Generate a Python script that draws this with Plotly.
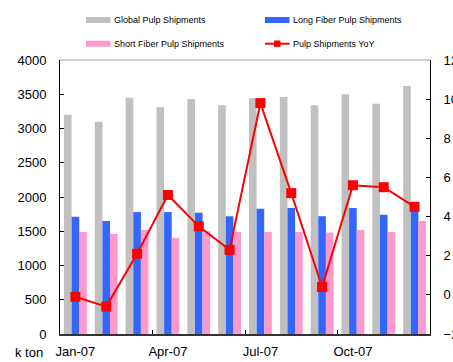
import plotly.graph_objects as go

# Monthly pulp shipments, 2007 (thousand tonnes) and year-on-year growth (%)
months = ["Jan-07", "Feb-07", "Mar-07", "Apr-07", "May-07", "Jun-07",
          "Jul-07", "Aug-07", "Sep-07", "Oct-07", "Nov-07", "Dec-07"]
global_pulp = [3200, 3100, 3450, 3310, 3430, 3340, 3440, 3460, 3340, 3500, 3360, 3620]
long_fiber = [1710, 1650, 1780, 1780, 1770, 1720, 1830, 1840, 1720, 1840, 1740, 1800]
short_fiber = [1490, 1460, 1520, 1400, 1500, 1490, 1490, 1490, 1480, 1520, 1490, 1650]
yoy = [-0.1, -0.6, 2.1, 5.1, 3.5, 2.3, 9.8, 5.2, 0.4, 5.6, 5.5, 4.5]

label_months = ["Jan-07", "Apr-07", "Jul-07", "Oct-07"]

GRAY = "#C0C0C0"
BLUE = "#3366FF"
PINK = "#FF99CC"
RED = "#FF0000"

W, H = 453, 362
L, R, T, B = 60, 23, 60, 28
PW, PH = W - L - R, H - T - B

xs = list(range(len(months)))
tick_idx = [months.index(m) for m in label_months]

fig = go.Figure()
fig.add_trace(go.Bar(x=xs, y=global_pulp, name="Global Pulp Shipments",
                     marker=dict(color=GRAY, line=dict(width=0))))
fig.add_trace(go.Bar(x=xs, y=long_fiber, name="Long Fiber Pulp Shipments",
                     marker=dict(color=BLUE, line=dict(width=0))))
fig.add_trace(go.Bar(x=xs, y=short_fiber, name="Short Fiber Pulp Shipments",
                     marker=dict(color=PINK, line=dict(width=0))))
fig.add_trace(go.Scatter(x=xs, y=yoy, name="Pulp Shipments YoY", yaxis="y2",
                         mode="lines+markers",
                         line=dict(color=RED, width=2),
                         marker=dict(symbol="square", size=10, color=RED)))


def px_x(p):
    return (p - L) / PW


def px_y(p):
    return (H - B - p) / PH


# Hand-built legend: wide swatches with labels, two columns by two rows
shapes = []
annotations = []
legend_items = [
    ("Global Pulp Shipments", GRAY, 86, 20, "bar"),
    ("Long Fiber Pulp Shipments", BLUE, 265, 20, "bar"),
    ("Short Fiber Pulp Shipments", PINK, 86, 43.7, "bar"),
    ("Pulp Shipments YoY", RED, 265, 43.7, "line"),
]
for text, color, x0, yc, kind in legend_items:
    if kind == "bar":
        shapes.append(dict(type="rect", xref="paper", yref="paper",
                           x0=px_x(x0), x1=px_x(x0 + 24.5),
                           y0=px_y(yc + 3), y1=px_y(yc - 3),
                           fillcolor=color, line=dict(width=0), layer="above"))
    else:
        shapes.append(dict(type="line", xref="paper", yref="paper",
                           x0=px_x(x0), x1=px_x(x0 + 24.5),
                           y0=px_y(yc), y1=px_y(yc),
                           line=dict(color=color, width=2), layer="above"))
        shapes.append(dict(type="rect", xref="paper", yref="paper",
                           x0=px_x(x0 + 9), x1=px_x(x0 + 15.5),
                           y0=px_y(yc + 3.2), y1=px_y(yc - 3.2),
                           fillcolor=color, line=dict(width=0), layer="above"))
    annotations.append(dict(text=text, xref="paper", yref="paper",
                            x=px_x(x0 + 26), y=px_y(yc), xanchor="left",
                            yanchor="middle", showarrow=False,
                            font=dict(size=9, color="#000000")))

# Grey top border of the plot frame
shapes.append(dict(type="line", xref="paper", yref="paper",
                   x0=0, x1=1, y0=1, y1=1,
                   line=dict(color="#A0A0A0", width=1), layer="above"))

# Unit label under the left axis
annotations.append(dict(text="k ton", xref="paper", yref="paper",
                        x=px_x(45), y=px_y(352), xanchor="right",
                        yanchor="middle", showarrow=False,
                        font=dict(size=13, color="#000000")))

tick_font = dict(family="Liberation Sans, Arial, sans-serif", size=13, color="#000000")

fig.update_layout(
    width=W, height=H,
    margin=dict(l=L, r=R, t=T, b=B, pad=0, autoexpand=False),
    paper_bgcolor="white", plot_bgcolor="white",
    font=dict(family="Liberation Sans, Arial, sans-serif", color="#000000"),
    showlegend=False,
    barmode="group", bargap=0.26, bargroupgap=0,
    shapes=shapes, annotations=annotations,
    xaxis=dict(
        range=[-0.5, len(months) - 0.5],
        tickmode="array", tickvals=tick_idx, ticktext=label_months,
        ticks="", showgrid=False, zeroline=False, automargin=False,
        showline=True, linecolor="#333333", linewidth=2,
        tickfont=tick_font, ticklabelstandoff=4,
        minor=dict(tickmode="array", tickvals=[2.5, 5.5, 8.5],
                   ticks="inside", ticklen=4, tickcolor="#000000",
                   showgrid=False),
    ),
    yaxis=dict(
        range=[0, 4000], dtick=500, tick0=0,
        ticks="inside", ticklen=4, tickcolor="#000000",
        showgrid=False, zeroline=False, automargin=False,
        showline=True, linecolor="#000000", linewidth=1,
        tickfont=tick_font, ticklabelstandoff=10,
    ),
    yaxis2=dict(
        range=[-2, 12], dtick=2, tick0=0,
        overlaying="y", side="right",
        ticks="inside", ticklen=4, tickcolor="#000000",
        showgrid=False, zeroline=False, automargin=False,
        showline=True, linecolor="#000000", linewidth=1,
        tickfont=tick_font, ticklabelstandoff=10,
    ),
)

fig.write_html("out.html")
